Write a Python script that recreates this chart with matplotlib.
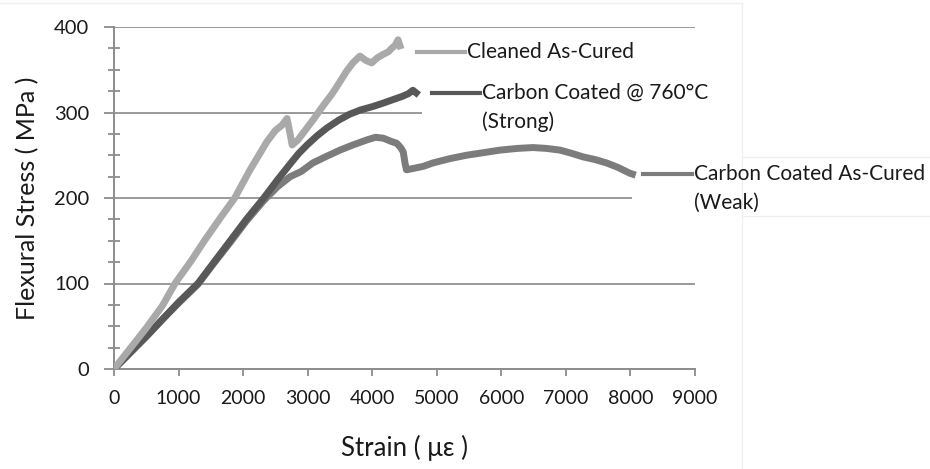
import matplotlib
matplotlib.use("Agg")
import matplotlib.pyplot as plt
from matplotlib.lines import Line2D
from matplotlib.patches import Rectangle

plt.rcParams['font.family'] = ['Lato', 'DejaVu Sans']

# strain (microstrain) / flexural stress (MPa)
cleaned_x = [0, 250, 500, 750, 945, 1200, 1400, 1650, 1870, 2100, 2370, 2500, 2600, 2680,
             2720, 2760, 2850, 2990, 3100, 3240, 3380, 3500, 3600, 3700, 3810, 3900, 3990,
             4080, 4170, 4250, 4300, 4360, 4400, 4430]
cleaned_y = [0, 24, 48, 74, 100, 127, 150, 177, 200, 232, 266, 279, 285, 293,
             278, 262, 268, 282, 293, 308, 322, 336, 348, 358, 366, 361, 358,
             364, 368, 371, 375, 379, 385, 378]

strong_x = [0, 250, 500, 750, 1000, 1300, 1550, 1800, 2050, 2320, 2530, 2730, 2860, 2990,
            3150, 3300, 3480, 3650, 3820, 4010, 4170, 4320, 4470, 4560, 4630, 4680]
strong_y = [0, 19, 38, 58, 78, 100, 125, 150, 175, 200, 221, 240, 252, 262,
            273, 282, 291, 298, 303, 307, 311, 315, 319, 322, 326, 323]

weak_x = [0, 250, 500, 750, 1000, 1300, 1550, 1800, 2050, 2320, 2530, 2730, 2900, 3080,
          3300, 3500, 3700, 3920, 4050, 4170, 4300, 4380, 4440, 4480, 4510, 4530, 4600,
          4790, 4940, 5200, 5460, 5720, 5980, 6250, 6490, 6700, 6910, 7100, 7270, 7450,
          7630, 7800, 7990, 8030]
weak_y = [0, 19, 38, 58, 77, 99, 124, 148, 173, 197, 213, 225, 231, 241,
          249, 256, 262, 268, 271, 270, 266, 264, 259, 254, 240, 233, 234,
          237, 241, 246, 250, 253, 256, 258, 259, 258, 256, 252, 248, 245,
          241, 236, 229, 228]

c_clean = '#a9a9a9'
c_strong = '#585858'
c_weak = '#7c7c7c'

W, H = 930, 469
fig = plt.figure(figsize=(W / 100, H / 100), dpi=100)
ax = fig.add_axes([114 / W, 1 - 369 / H, 581 / W, 342 / H])


def fx(px):
    return px / W


def fy(py):
    return 1 - py / H


ax.plot(weak_x, weak_y, color=c_weak, lw=5, solid_joinstyle='round', zorder=3)
ax.plot(strong_x, strong_y, color=c_strong, lw=5, solid_joinstyle='round', zorder=4)
ax.plot(cleaned_x, cleaned_y, color=c_clean, lw=5, solid_joinstyle='round', zorder=5)

ax.set_xlim(0, 9000)
ax.set_ylim(0, 400)
ax.set_xticks(range(0, 9001, 1000))
ax.set_yticks(range(0, 401, 100))
ax.set_yticks(range(0, 401, 25), minor=True)
ax.yaxis.grid(True, color='#9a9a9a', lw=1.4)
ax.set_axisbelow(True)
for s in ['top', 'right']:
    ax.spines[s].set_visible(False)
for s in ['left', 'bottom']:
    ax.spines[s].set_color('#8c8c8c')
    ax.spines[s].set_linewidth(1.4)
ax.tick_params(axis='x', direction='out', length=5, width=1.3, color='#8c8c8c',
               labelsize=14, pad=10, labelcolor='#1a1a1a')
ax.tick_params(axis='y', which='major', direction='out', length=7, width=1.3,
               color='#8c8c8c', labelsize=14.5, pad=11, labelcolor='#1a1a1a')
ax.tick_params(axis='y', which='minor', direction='inout', length=9, width=1.3,
               color='#8c8c8c')

ax.set_xlabel('Strain ( με )', fontsize=18.5, color='#1a1a1a', va='center')
ax.xaxis.set_label_coords(0.5, (369 - 448) / 342)
ax.set_ylabel('Flexural Stress ( MPa )', fontsize=18, color='#1a1a1a', va='center')
ax.yaxis.set_label_coords((28 - 114) / 581, 0.5)

# faint chart-area frame
frame = [((0, 3), (742, 3)), ((742, 3), (742, 469)),
         ((742, 157), (930, 157)), ((742, 216), (930, 216))]
for (xa, ya), (xb, yb) in frame:
    fig.add_artist(Line2D([fx(xa), fx(xb)], [fy(ya), fy(yb)], color='#f0f0f0', lw=1,
                          zorder=-1))

# white label boxes hiding the grid lines (under the curves)
ax.add_patch(Rectangle((fx(422), fy(140)), fx(740) - fx(422), fy(78) - fy(140),
                       transform=fig.transFigure, fc='white', ec='none', zorder=1,
                       clip_on=False))
ax.add_patch(Rectangle((fx(632), fy(215)), fx(741) - fx(632), fy(158) - fy(215),
                       transform=fig.transFigure, fc='white', ec='none',
                       zorder=1, clip_on=False))

labels = [
    (417, 465, 52, c_clean, ['Cleaned As-Cured']),
    (432, 480, 93, c_strong, ['Carbon Coated @ 760°C', '(Strong)']),
    (643, 692, 174, c_weak, ['Carbon Coated As-Cured', '(Weak)']),
]
for x0, x1, yy, col, lines in labels:
    fig.add_artist(Line2D([fx(x0), fx(x1)], [fy(yy), fy(yy)], color=col, lw=3, zorder=3))
    for i, t in enumerate(lines):
        fig.text(fx(x1 + 2), fy(yy + 29 * i), t, fontsize=15, color='#1a1a1a',
                 va='center', ha='left', zorder=4)

fig.savefig('out.png', dpi=100, facecolor='white')
